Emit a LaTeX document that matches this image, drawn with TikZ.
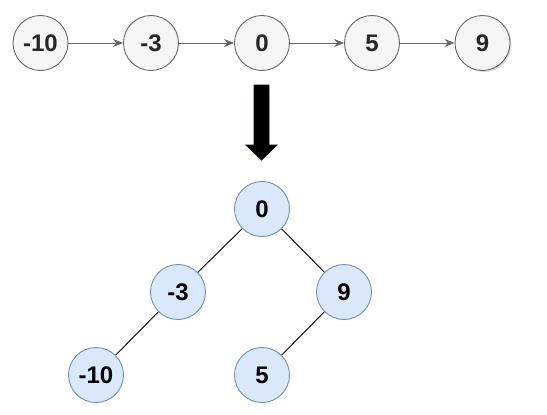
\documentclass[tikz,border=0pt]{standalone}
\usepackage{fontspec}
\setmainfont{Liberation Sans}
\usetikzlibrary{arrows.meta,shadows}
\definecolor{lfill}{HTML}{F5F5F5}
\definecolor{lline}{HTML}{666666}
\definecolor{tfill}{HTML}{DAE8FC}
\definecolor{tline}{HTML}{6C8EBF}
\begin{document}
\begin{tikzpicture}[x=1pt,y=-1pt,
  listnode/.style={circle,draw=lline,fill=lfill,line width=0.9pt,minimum size=55pt,inner sep=0pt,font=\fontsize{24}{28}\selectfont\bfseries,text=black!85},
  treenode/.style={circle,draw=tline,fill=tfill,line width=0.9pt,minimum size=55pt,inner sep=0pt,font=\fontsize{24}{28}\selectfont\bfseries,text=black},
  listarrow/.style={draw=lline,line width=0.9pt,-{Stealth[length=10pt,width=8pt]}},
  edge/.style={draw=black,line width=0.9pt}]
\useasboundingbox (0,0) rectangle (547,415);
% linked list
\node[listnode] (l1) at (40.5,43) {-10};
\node[listnode] (l2) at (151,43) {-3};
\node[listnode] (l3) at (262,43) {0};
\node[listnode] (l4) at (372,43) {5};
\node[listnode,drop shadow={shadow xshift=1.5pt,shadow yshift=-1.5pt,opacity=0.3}] (l5) at (482.5,43) {9};
\draw[listarrow] (l1) -- (l2);
\draw[listarrow] (l2) -- (l3);
\draw[listarrow] (l3) -- (l4);
\draw[listarrow] (l4) -- (l5);
% big arrow
\filldraw[fill=black,draw=black!80!green!60!black,line width=0.8pt]
  (254,85) -- (269,85) -- (269,145) -- (277,145) -- (261.5,160) -- (246,145) -- (254,145) -- cycle;
% tree
\node[treenode] (t0) at (262,209) {0};
\node[treenode] (t1) at (178,292) {-3};
\node[treenode] (t2) at (344,292) {9};
\node[treenode] (t3) at (96,375) {-10};
\node[treenode] (t4) at (262,375) {5};
\draw[edge] (t0) -- (t1);
\draw[edge] (t0) -- (t2);
\draw[edge] (t1) -- (t3);
\draw[edge] (t2) -- (t4);
\end{tikzpicture}
\end{document}
